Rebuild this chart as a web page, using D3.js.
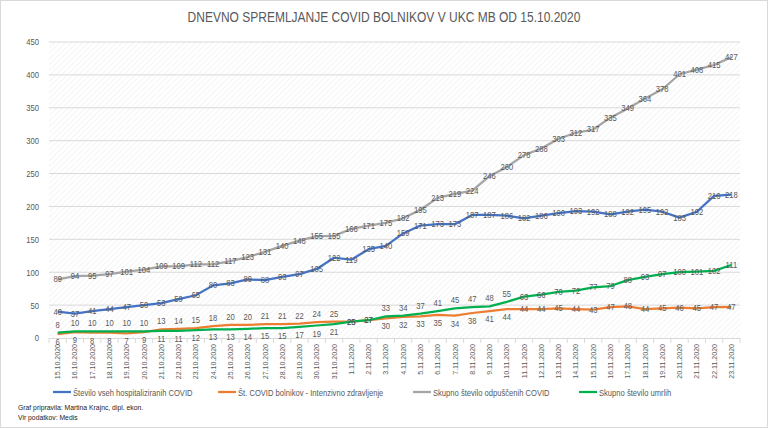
<!DOCTYPE html>
<html>
<head>
<meta charset="utf-8">
<script src="https://cdn.jsdelivr.net/npm/d3@7"></script>
<style>
  body { margin: 0; background: #fff; }
  text { font-family: "Liberation Sans", "DejaVu Sans", sans-serif; }
</style>
</head>
<body>
<div id="chart"></div>
<script>
var W = 768, H = 428;

// data
var dates = ["15.10.2020","16.10.2020","17.10.2020","18.10.2020","19.10.2020","20.10.2020","21.10.2020",
  "22.10.2020","23.10.2020","24.10.2020","25.10.2020","26.10.2020","27.10.2020","28.10.2020","29.10.2020",
  "30.10.2020","31.10.2020","1.11.2020","2.11.2020","3.11.2020","4.11.2020","5.11.2020","6.11.2020",
  "7.11.2020","8.11.2020","9.11.2020","10.11.2020","11.11.2020","12.11.2020","13.11.2020","14.11.2020",
  "15.11.2020","16.11.2020","17.11.2020","18.11.2020","19.11.2020","20.11.2020","21.11.2020","22.11.2020","23.11.2020"];
var hospitalized = [40,37,41,44,47,50,53,59,65,80,83,89,88,93,97,105,122,119,135,140,
  159,171,173,173,187,187,186,182,186,190,193,192,188,192,195,192,183,192,216,218];
var icu = [6,9,8,8,7,9,13,14,15,18,20,20,21,21,22,24,25,25,27,30,
  32,33,35,34,38,41,44,44,44,45,44,43,47,48,44,45,46,45,47,47];
var discharged = [89,94,95,97,101,104,109,109,112,112,117,123,131,140,148,155,155,166,171,175,
  182,195,213,219,224,246,260,278,288,303,312,317,335,349,364,378,401,408,415,427];
var deaths = [8,10,10,10,10,10,11,11,12,13,13,14,15,15,17,19,21,25,27,33,
  34,37,41,45,47,48,55,63,66,70,72,77,79,88,93,97,100,101,102,111];
var yTicks = [0,50,100,150,200,250,300,350,400,450];

var series = [
  { name: "Število vseh hospitaliziranih COVID", values: hospitalized, color: "#4472C4" },
  { name: "Št. COVID bolnikov - Intenzivno zdravljenje", values: icu, color: "#ED7D31" },
  { name: "Skupno število odpuščenih COVID", values: discharged, color: "#A5A5A5" },
  { name: "Skupno število umrlih", values: deaths, color: "#00B050" }
];

// squeeze a text to look like the narrow Office font
function condense(sel, k) {
  sel.each(function() {
    var w = this.getComputedTextLength();
    d3.select(this).attr("textLength", w * k).attr("lengthAdjust", "spacingAndGlyphs");
  });
}

var svg = d3.select("#chart").append("svg").attr("width", W).attr("height", H);

svg.append("rect").attr("x", 0.5).attr("y", 0.5).attr("width", W - 1).attr("height", H - 1)
  .attr("fill", "#fff").attr("stroke", "#d9d9d9");

var pat = svg.append("defs").append("pattern").attr("id", "hatch")
  .attr("patternUnits", "userSpaceOnUse").attr("width", 4).attr("height", 4)
  .attr("patternTransform", "rotate(45)");
pat.append("line").attr("x1", 0).attr("y1", 0).attr("x2", 0).attr("y2", 4)
  .attr("stroke", "#ececec").attr("stroke-width", 1.2);

svg.append("text").attr("x", 384).attr("y", 22).attr("text-anchor", "middle")
  .attr("font-size", 15).attr("fill", "#595959")
  .text("DNEVNO SPREMLJANJE COVID BOLNIKOV V UKC MB OD 15.10.2020")
  .call(condense, 0.8);

var x = d3.scaleBand().domain(dates).range([49, 740]);
var y = d3.scaleLinear().domain([0, 450]).range([338, 42]);
var cx = function(d, i) { return x(dates[i]) + x.bandwidth() / 2; };

svg.append("rect").attr("x", 49).attr("y", y(450)).attr("width", 691).attr("height", y(0) - y(450))
  .attr("fill", "url(#hatch)");

// grid
svg.append("g").selectAll("line").data(yTicks.slice(1)).enter().append("line")
  .attr("x1", 49).attr("x2", 740).attr("y1", function(d) { return y(d); }).attr("y2", function(d) { return y(d); })
  .attr("stroke", "#d9d9d9").attr("stroke-width", 1);

var yAxis = svg.append("g").attr("transform", "translate(49,0)")
  .call(d3.axisLeft(y).tickValues(yTicks).tickSize(0).tickPadding(10));
yAxis.select(".domain").remove();
yAxis.selectAll("text").attr("font-size", 9).attr("fill", "#595959").call(condense, 0.85);

var xAxis = svg.append("g").attr("transform", "translate(0," + y(0) + ")")
  .call(d3.axisBottom(x).tickSize(0));
xAxis.select(".domain").attr("stroke", "#d9d9d9");
xAxis.selectAll("text").attr("font-size", 8).attr("fill", "#595959")
  .attr("text-anchor", "end").attr("dy", "0.32em")
  .attr("transform", "translate(0,6) rotate(-90)").attr("x", 0).attr("y", 0)
  .call(condense, 0.88);
svg.append("g").selectAll("line").data(dates.concat(["end"])).enter().append("line")
  .attr("x1", function(d, i) { return 49 + i * x.bandwidth(); })
  .attr("x2", function(d, i) { return 49 + i * x.bandwidth(); })
  .attr("y1", y(0)).attr("y2", y(0) + 5).attr("stroke", "#d9d9d9");

var line = d3.line().x(cx).y(function(d) { return y(d); });

svg.append("g").selectAll("path").data(series).enter().append("path")
  .attr("d", function(s) { return line(s.values); })
  .attr("fill", "none").attr("stroke", function(s) { return s.color; })
  .attr("stroke-width", 2.25).attr("stroke-linejoin", "round");

// value labels
function labelOffset(si, i) {
  if (si === 1 || si === 3) {
    var a = icu[i], b = deaths[i];
    if (Math.abs(a - b) <= 12 && a !== b) {
      var mine = si === 1 ? a : b, other = si === 1 ? b : a;
      return mine > other ? -5 : 11;
    }
  }
  return 3;
}
series.forEach(function(s, si) {
  svg.append("g").selectAll("text").data(s.values).enter().append("text")
    .attr("x", cx).attr("y", function(d, i) { return y(d) + labelOffset(si, i); })
    .attr("text-anchor", "middle").attr("font-size", 9).attr("fill", "#595959")
    .text(function(d) { return d; })
    .call(condense, 0.85);
});

// legend
var legX = [53, 218, 413, 579];
var leg = svg.append("g").selectAll("g").data(series).enter().append("g")
  .attr("transform", function(d, i) { return "translate(" + legX[i] + ",392)"; });
leg.append("line").attr("x1", 0).attr("x2", 18).attr("y1", 0).attr("y2", 0)
  .attr("stroke", function(d) { return d.color; }).attr("stroke-width", 2.25);
leg.append("text").attr("x", 20).attr("y", 3.5).attr("font-size", 9.5).attr("fill", "#595959")
  .text(function(d) { return d.name; })
  .call(condense, 0.8);

svg.append("text").attr("x", 18).attr("y", 410).attr("font-size", 8).attr("fill", "#222")
  .text("Graf pripravila: Martina Krajnc, dipl. ekon.").call(condense, 0.85);
svg.append("text").attr("x", 18).attr("y", 420).attr("font-size", 8).attr("fill", "#222")
  .text("Vir podatkov: Medis").call(condense, 0.85);
</script>
</body>
</html>
